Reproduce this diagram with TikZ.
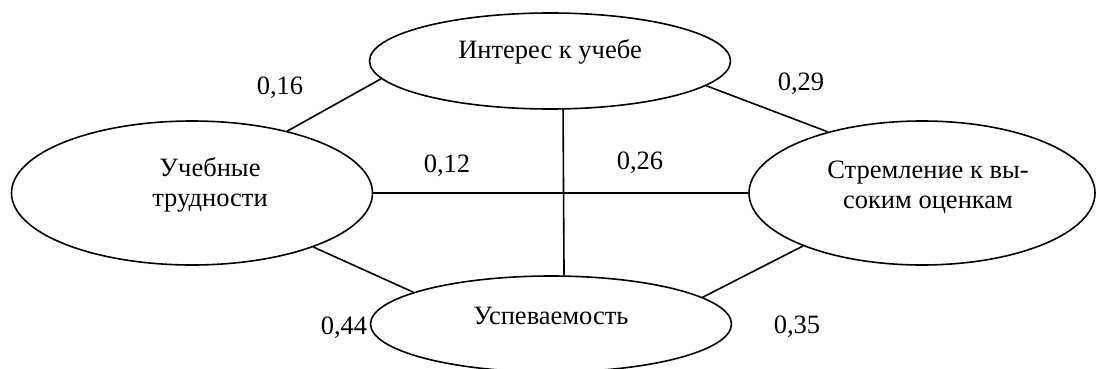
\documentclass[tikz,border=0pt]{standalone}
\usepackage{fontspec}
\setmainfont{Liberation Serif}
\usetikzlibrary{shapes.geometric}
\tikzset{
  factor/.style={draw, ellipse, line width=1.6pt, inner sep=0pt},
  factortext/.style={align=center, font=\fontsize{26.5}{30}\selectfont},
  weight/.style={font=\fontsize{26.5}{30}\selectfont},
  link/.style={line width=1.6pt}
}
\begin{document}
\begin{tikzpicture}[x=1pt, y=-1pt]
\useasboundingbox (0,0) rectangle (1099,369);
% factors
\node[factor, minimum width=361pt, minimum height=96pt] (interest) at (550,61) {};
\node[factor, minimum width=361pt, minimum height=144pt] (difficulty) at (192,193) {};
\node[factor, minimum width=346pt, minimum height=144pt] (marks) at (922,193) {};
\node[factor, minimum width=361pt, minimum height=96pt] (progress) at (551,324) {};
\node[factortext] (interesttext) at ([yshift=9pt]interest.center) {Интерес к учебе};
\node[factortext] (difficultytext) at ([xshift=18pt, yshift=8pt]difficulty.center) {Учебные\\трудности};
\node[factortext] (markstext) at ([xshift=6pt, yshift=6pt]marks.center) {Стремление к вы-\\соким оценкам};
\node[factortext] (progresstext) at ([yshift=8pt]progress.center) {Успеваемость};
% links
\draw[link] (difficulty.33.6) -- (interest.186.9);
\draw[link] (interest.351.3) -- (marks.147);
\draw[link] (difficulty.east) -- (marks.west);
\draw[link] (interest.285.2) -- (progress.75.7);
\draw[link] (difficulty.336.3) -- (progress.167.4);
\draw[link] (progress.10.7) -- (marks.204.2);
% weights
\node[weight] (w1) at (280,88) {0,16};
\node[weight] (w2) at (801,84) {0,29};
\node[weight] (w3) at (447,166) {0,12};
\node[weight] (w4) at (640,163) {0,26};
\node[weight] (w5) at (344,328) {0,44};
\node[weight] (w6) at (797,327) {0,35};
\end{tikzpicture}
\end{document}
